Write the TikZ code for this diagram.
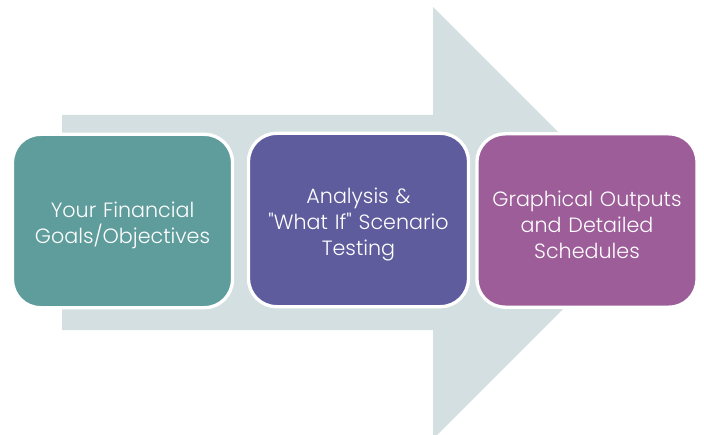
\documentclass[tikz,border=0pt]{standalone}
\usepackage{fontspec}
\setmainfont{Poppins}[UprightFont=* Light]
\usetikzlibrary{calc}
\definecolor{arrowgray}{HTML}{D3DFE0}
\definecolor{goalteal}{HTML}{5F9D9C}
\definecolor{testpurple}{HTML}{5F5C9D}
\definecolor{outmauve}{HTML}{9D5D99}
\begin{document}
\begin{tikzpicture}[x = 0.75pt,
    y = -0.75pt,
    font = \fontsize{15.5}{19.5}\selectfont]
    % style of boxes
    \tikzset{stagebox/.style={draw=white,line width=2.5pt,rounded corners=21pt,
        minimum width=165pt,minimum height=130pt,text width=158pt,align=center,
        text=white,inner sep=0pt}}
    \useasboundingbox (0,0) rectangle (704,435);
    % big arrow behind
    \fill[arrowgray] (62,115) -- (433,115) -- (433,7) -- (649,223) --
    (433,439) -- (433,330) -- (62,330) -- cycle;
    % stages
    \node[stagebox,fill=goalteal]   (goals)    at (122.5,221) {\rule{0pt}{18pt}Your Financial\\Goals/Objectives};
    \node[stagebox,fill=testpurple] (analysis) at (358.5,220) {\rule{0pt}{18pt}Analysis \&\\\textquotedbl What If\textquotedbl\ Scenario\\Testing};
    \node[stagebox,fill=outmauve]   (outputs)  at (587,220.5) {\rule{0pt}{18pt}Graphical Outputs\\and Detailed\\Schedules};
  \end{tikzpicture}
\end{document}
